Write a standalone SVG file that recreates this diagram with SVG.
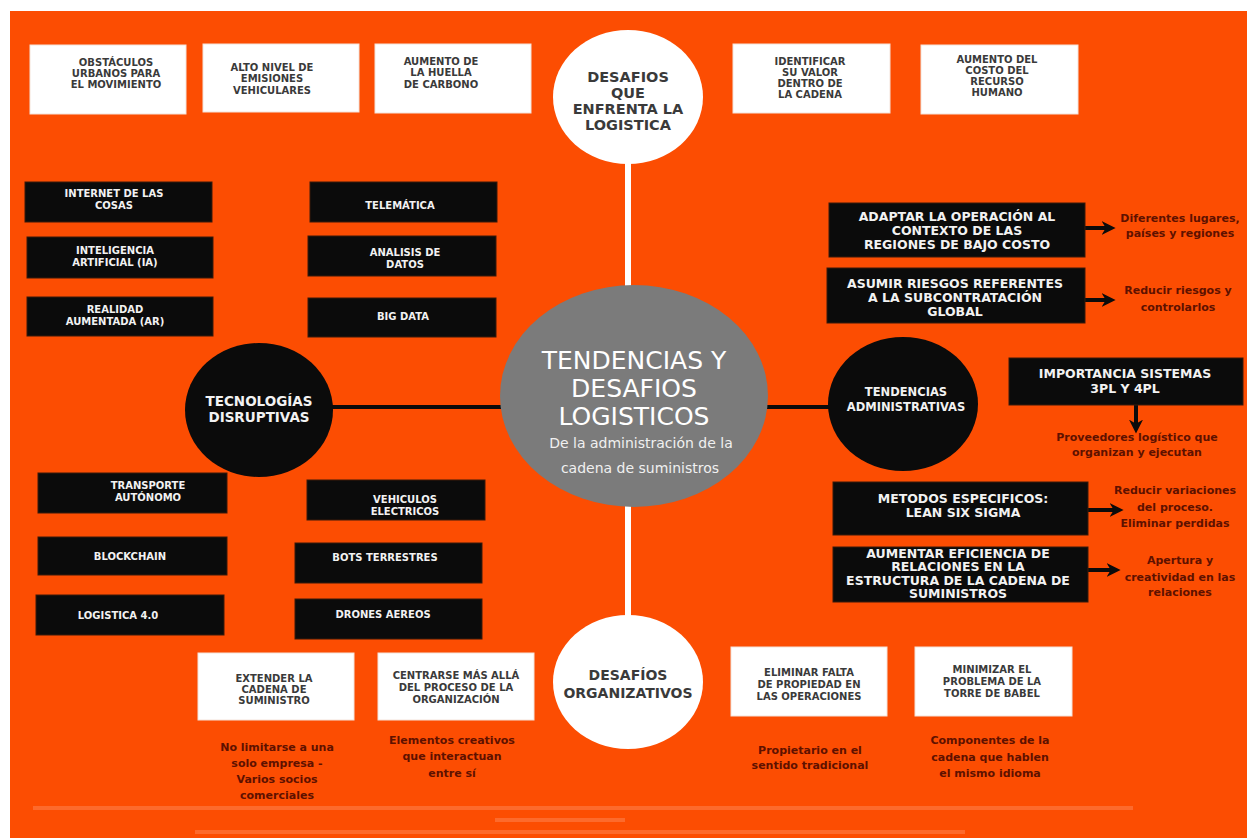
<svg xmlns="http://www.w3.org/2000/svg" width="1247" height="838" viewBox="0 0 1247 838">
<style>
.wb{fill:#ffffff;stroke:#f3e3da;stroke-width:1}
.bb{fill:#0b0b0b;stroke:#3a1a0a;stroke-width:1}
.tw{font-family:"DejaVu Sans","Liberation Sans",sans-serif;font-weight:bold;fill:#3a3a3a;text-anchor:middle}
.tb{font-family:"DejaVu Sans","Liberation Sans",sans-serif;font-weight:bold;fill:#f2f2f2;text-anchor:middle}
.tr{font-family:"DejaVu Sans","Liberation Sans",sans-serif;font-weight:bold;fill:#5e1100;text-anchor:middle}
.s11{font-size:10px}
.s10{font-size:10px}
.s14{font-size:12.5px}
.s15{font-size:14.5px}
.r11{font-size:11px}
.arr{stroke:#0b0b0b;stroke-width:4;fill:none;marker-end:url(#ah)}
.foot{fill:#ffb08e;opacity:0.3}
</style>
<defs>
<marker id="ah" viewBox="0 0 10 10" refX="6" refY="5" markerWidth="14" markerHeight="14" markerUnits="userSpaceOnUse" orient="auto">
<path d="M0,0 L10,5 L0,10 L3,5 z" fill="#0b0b0b"/>
</marker>
</defs>
<rect x="0" y="0" width="1247" height="838" fill="#ffffff"/>
<rect x="10" y="11" width="1237" height="827" fill="#fc4d02"/>

<g id="connectors">
<line x1="628" y1="160" x2="628" y2="290" stroke="#ffffff" stroke-width="6"/>
<line x1="628" y1="505" x2="628" y2="620" stroke="#ffffff" stroke-width="6"/>
<line x1="330" y1="407" x2="505" y2="407" stroke="#0b0b0b" stroke-width="4"/>
<line x1="764" y1="407" x2="832" y2="407" stroke="#0b0b0b" stroke-width="4"/>
<line class="arr" x1="1085" y1="228" x2="1110" y2="228"/>
<line class="arr" x1="1085" y1="300" x2="1110" y2="300"/>
<line class="arr" x1="1136" y1="405" x2="1136" y2="428"/>
<line class="arr" x1="1088" y1="510" x2="1118" y2="510"/>
<line class="arr" x1="1088" y1="570" x2="1115" y2="570"/>
</g>

<g id="top-box-1"><rect class="wb" x="30" y="45" width="156" height="69"/>
<text class="tw s11"><tspan x="116" y="66">OBSTÁCULOS</tspan><tspan x="116" y="77">URBANOS PARA</tspan><tspan x="116" y="88">EL MOVIMIENTO</tspan></text></g>
<g id="top-box-2"><rect class="wb" x="203" y="44" width="156" height="68"/>
<text class="tw s11"><tspan x="272" y="71">ALTO NIVEL DE</tspan><tspan x="272" y="82">EMISIONES</tspan><tspan x="272" y="94">VEHICULARES</tspan></text></g>
<g id="top-box-3"><rect class="wb" x="375" y="44" width="156" height="69"/>
<text class="tw s11"><tspan x="441" y="65">AUMENTO DE</tspan><tspan x="441" y="76">LA HUELLA</tspan><tspan x="441" y="88">DE CARBONO</tspan></text></g>
<g id="top-box-4"><rect class="wb" x="733" y="44" width="157" height="69"/>
<text class="tw s11"><tspan x="810" y="65">IDENTIFICAR</tspan><tspan x="810" y="76">SU VALOR</tspan><tspan x="810" y="87">DENTRO DE</tspan><tspan x="810" y="98">LA CADENA</tspan></text></g>
<g id="top-box-5"><rect class="wb" x="921" y="45" width="157" height="69"/>
<text class="tw s11"><tspan x="997" y="63">AUMENTO DEL</tspan><tspan x="997" y="74">COSTO DEL</tspan><tspan x="997" y="85">RECURSO</tspan><tspan x="997" y="96">HUMANO</tspan></text></g>

<g id="desafios-logistica"><ellipse cx="628" cy="97" rx="75" ry="67" fill="#ffffff"/>
<text class="tw s15"><tspan x="628" y="82">DESAFIOS</tspan><tspan x="628" y="98">QUE</tspan><tspan x="628" y="114">ENFRENTA LA</tspan><tspan x="628" y="130">LOGISTICA</tspan></text></g>

<g id="central"><ellipse cx="634" cy="396" rx="134" ry="111" fill="#7b7b7b"/>
<text font-family="DejaVu Sans, Liberation Sans, sans-serif" font-size="25" fill="#ffffff" text-anchor="middle"><tspan x="634" y="369">TENDENCIAS Y</tspan><tspan x="634" y="397">DESAFIOS</tspan><tspan x="634" y="425">LOGISTICOS</tspan></text>
<text font-family="DejaVu Sans, Liberation Sans, sans-serif" font-size="14" fill="#f0f0f0" text-anchor="middle"><tspan x="641" y="448">De la administración  de la</tspan><tspan x="640" y="473">cadena de suministros</tspan></text></g>

<g id="tecnologias"><ellipse cx="259" cy="410" rx="74" ry="67" fill="#0b0b0b"/>
<text class="tb" font-size="13.5"><tspan x="259" y="406">TECNOLOGÍAS</tspan><tspan x="259" y="422">DISRUPTIVAS</tspan></text></g>

<g id="tendencias-admin"><ellipse cx="903" cy="404" rx="75" ry="67" fill="#0b0b0b"/>
<text class="tb" font-size="11.5"><tspan x="906" y="396">TENDENCIAS</tspan><tspan x="906" y="411">ADMINISTRATIVAS</tspan></text></g>

<g id="desafios-org"><ellipse cx="628" cy="682" rx="75" ry="67" fill="#ffffff"/>
<text class="tw" font-size="14"><tspan x="628" y="680">DESAFÍOS</tspan><tspan x="628" y="698">ORGANIZATIVOS</tspan></text></g>

<g id="iot"><rect class="bb" x="25" y="182" width="187" height="40"/>
<text class="tb s10"><tspan x="114" y="197">INTERNET DE LAS</tspan><tspan x="114" y="209">COSAS</tspan></text></g>
<g id="ia"><rect class="bb" x="27" y="237" width="186" height="41"/>
<text class="tb s10"><tspan x="115" y="254">INTELIGENCIA</tspan><tspan x="115" y="266">ARTIFICIAL (IA)</tspan></text></g>
<g id="ar"><rect class="bb" x="27" y="297" width="186" height="39"/>
<text class="tb s10"><tspan x="115" y="313">REALIDAD</tspan><tspan x="115" y="325">AUMENTADA (AR)</tspan></text></g>
<g id="telematica"><rect class="bb" x="310" y="182" width="187" height="40"/>
<text class="tb s10"><tspan x="400" y="209">TELEMÁTICA</tspan></text></g>
<g id="analisis"><rect class="bb" x="308" y="236" width="188" height="40"/>
<text class="tb s10"><tspan x="405" y="256">ANALISIS DE</tspan><tspan x="405" y="268">DATOS</tspan></text></g>
<g id="bigdata"><rect class="bb" x="308" y="298" width="188" height="39"/>
<text class="tb s10"><tspan x="403" y="320">BIG DATA</tspan></text></g>

<g id="transporte"><rect class="bb" x="38" y="473" width="189" height="40"/>
<text class="tb s10"><tspan x="148" y="489">TRANSPORTE</tspan><tspan x="148" y="501">AUTÓNOMO</tspan></text></g>
<g id="blockchain"><rect class="bb" x="38" y="537" width="189" height="38"/>
<text class="tb s10"><tspan x="130" y="560">BLOCKCHAIN</tspan></text></g>
<g id="logistica40"><rect class="bb" x="36" y="595" width="188" height="40"/>
<text class="tb s10"><tspan x="118" y="619">LOGISTICA 4.0</tspan></text></g>
<g id="vehiculos"><rect class="bb" x="307" y="480" width="178" height="40"/>
<text class="tb s10"><tspan x="405" y="503">VEHICULOS</tspan><tspan x="405" y="515">ELECTRICOS</tspan></text></g>
<g id="bots"><rect class="bb" x="295" y="543" width="187" height="40"/>
<text class="tb s10"><tspan x="385" y="561">BOTS TERRESTRES</tspan></text></g>
<g id="drones"><rect class="bb" x="295" y="599" width="187" height="40"/>
<text class="tb s10"><tspan x="383" y="618">DRONES AEREOS</tspan></text></g>

<g id="adaptar"><rect class="bb" x="829" y="203" width="256" height="54"/>
<text class="tb s14"><tspan x="957" y="221">ADAPTAR LA OPERACIÓN AL</tspan><tspan x="957" y="235">CONTEXTO DE LAS</tspan><tspan x="957" y="249">REGIONES DE BAJO COSTO</tspan></text></g>
<g id="adaptar-note"><text class="tr r11"><tspan x="1180" y="222">Diferentes lugares,</tspan><tspan x="1180" y="237">países y regiones</tspan></text></g>
<g id="asumir"><rect class="bb" x="827" y="268" width="258" height="55"/>
<text class="tb s14"><tspan x="955" y="288">ASUMIR RIESGOS REFERENTES</tspan><tspan x="955" y="302">A LA SUBCONTRATACIÓN</tspan><tspan x="955" y="316">GLOBAL</tspan></text></g>
<g id="asumir-note"><text class="tr r11"><tspan x="1178" y="294">Reducir riesgos y</tspan><tspan x="1178" y="311">controlarlos</tspan></text></g>
<g id="importancia"><rect class="bb" x="1009" y="358" width="234" height="47"/>
<text class="tb s14"><tspan x="1125" y="378">IMPORTANCIA SISTEMAS</tspan><tspan x="1125" y="393">3PL Y 4PL</tspan></text></g>
<g id="importancia-note"><text class="tr r11"><tspan x="1137" y="441">Proveedores logístico que</tspan><tspan x="1137" y="456">organizan y ejecutan</tspan></text></g>
<g id="metodos"><rect class="bb" x="833" y="482" width="255" height="53"/>
<text class="tb s14"><tspan x="963" y="503">METODOS ESPECIFICOS:</tspan><tspan x="963" y="517">LEAN SIX SIGMA</tspan></text></g>
<g id="metodos-note"><text class="tr r11"><tspan x="1175" y="494">Reducir variaciones</tspan><tspan x="1175" y="511">del proceso.</tspan><tspan x="1175" y="527">Eliminar perdidas</tspan></text></g>
<g id="aumentar"><rect class="bb" x="833" y="547" width="255" height="55"/>
<text class="tb s14"><tspan x="958" y="558">AUMENTAR EFICIENCIA  DE</tspan><tspan x="958" y="571">RELACIONES EN LA</tspan><tspan x="958" y="585">ESTRUCTURA DE LA CADENA DE</tspan><tspan x="958" y="598">SUMINISTROS</tspan></text></g>
<g id="aumentar-note"><text class="tr r11"><tspan x="1180" y="564">Apertura y</tspan><tspan x="1180" y="581">creatividad en las</tspan><tspan x="1180" y="596">relaciones</tspan></text></g>

<g id="extender"><rect class="wb" x="198" y="653" width="156" height="67"/>
<text class="tw s11"><tspan x="274" y="682">EXTENDER LA</tspan><tspan x="274" y="693">CADENA DE</tspan><tspan x="274" y="704">SUMINISTRO</tspan></text></g>
<g id="extender-note"><text class="tr r11"><tspan x="277" y="751">No limitarse a una</tspan><tspan x="277" y="767">solo empresa -</tspan><tspan x="277" y="783">Varios socios</tspan><tspan x="277" y="799">comerciales</tspan></text></g>
<g id="centrarse"><rect class="wb" x="378" y="653" width="156" height="67"/>
<text class="tw s11"><tspan x="456" y="679">CENTRARSE MÁS ALLÁ</tspan><tspan x="456" y="691">DEL PROCESO DE LA</tspan><tspan x="456" y="703">ORGANIZACIÓN</tspan></text></g>
<g id="centrarse-note"><text class="tr r11"><tspan x="452" y="744">Elementos creativos</tspan><tspan x="452" y="760">que interactuan</tspan><tspan x="452" y="777">entre sí</tspan></text></g>
<g id="eliminar"><rect class="wb" x="731" y="647" width="156" height="69"/>
<text class="tw s11"><tspan x="809" y="676">ELIMINAR FALTA</tspan><tspan x="809" y="688">DE PROPIEDAD EN</tspan><tspan x="809" y="700">LAS OPERACIONES</tspan></text></g>
<g id="eliminar-note"><text class="tr r11"><tspan x="810" y="754">Propietario en el</tspan><tspan x="810" y="769">sentido tradicional</tspan></text></g>
<g id="minimizar"><rect class="wb" x="915" y="647" width="157" height="69"/>
<text class="tw s11"><tspan x="992" y="673">MINIMIZAR EL</tspan><tspan x="992" y="685">PROBLEMA DE LA</tspan><tspan x="992" y="697">TORRE DE BABEL</tspan></text></g>
<g id="minimizar-note"><text class="tr r11"><tspan x="990" y="744">Componentes de la</tspan><tspan x="990" y="761">cadena que  hablen</tspan><tspan x="990" y="777">el mismo idioma</tspan></text></g>

<g id="footer">
<rect class="foot" x="33" y="806" width="1100" height="4"/>
<rect class="foot" x="495" y="818" width="130" height="4"/>
<rect class="foot" x="195" y="830" width="770" height="4"/>
</g>
</svg>
